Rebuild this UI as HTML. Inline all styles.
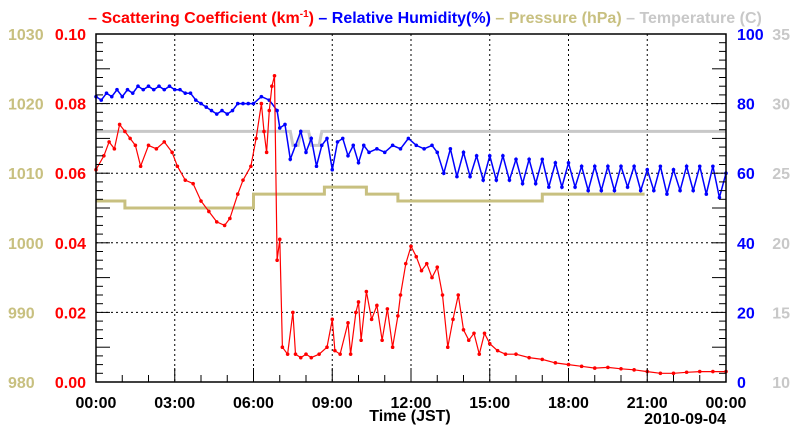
<!DOCTYPE html>
<html><head><meta charset="utf-8"><style>
body{margin:0;background:#fff;font-family:"Liberation Sans",sans-serif}
svg text{font-family:"Liberation Sans",sans-serif;font-weight:bold}
</style></head><body>
<svg id="c" width="800" height="434" xmlns="http://www.w3.org/2000/svg"></svg>
<script>
const scatT=[0,0.3,0.5,0.7,0.9,1.1,1.3,1.5,1.7,2.0,2.3,2.6,2.9,3.1,3.4,3.7,4.0,4.3,4.6,4.9,5.1,5.4,5.6,5.9,6.1,6.3,6.4,6.5,6.6,6.7,6.8,6.9,7.0,7.1,7.3,7.5,7.6,7.8,8.0,8.2,8.5,8.8,9.0,9.1,9.3,9.6,9.7,9.9,10.0,10.1,10.3,10.5,10.7,10.9,11.1,11.3,11.5,11.6,11.8,12.0,12.2,12.4,12.6,12.8,13.0,13.2,13.4,13.6,13.8,14.0,14.2,14.4,14.6,14.8,15.0,15.3,15.6,16,16.5,17,17.5,18,18.5,19,19.5,20,20.5,21,21.5,22,22.5,23,23.5,24];
const scatV=[0.061,0.065,0.069,0.067,0.074,0.072,0.070,0.068,0.062,0.068,0.067,0.069,0.066,0.062,0.058,0.057,0.052,0.049,0.046,0.045,0.047,0.054,0.058,0.062,0.070,0.080,0.072,0.066,0.078,0.085,0.088,0.035,0.041,0.010,0.008,0.020,0.008,0.007,0.008,0.007,0.008,0.010,0.018,0.009,0.008,0.017,0.008,0.020,0.023,0.012,0.026,0.018,0.022,0.012,0.021,0.010,0.019,0.025,0.034,0.039,0.036,0.032,0.034,0.030,0.033,0.025,0.010,0.018,0.025,0.015,0.012,0.014,0.008,0.014,0.011,0.009,0.008,0.008,0.007,0.0065,0.0055,0.005,0.0045,0.004,0.0042,0.0038,0.0035,0.003,0.0025,0.0025,0.0028,0.003,0.003,0.003];
const rhT=[0,0.2,0.4,0.6,0.8,1.0,1.2,1.4,1.6,1.8,2.0,2.2,2.4,2.6,2.8,3.0,3.2,3.4,3.6,3.8,4.0,4.2,4.4,4.6,4.8,5.0,5.2,5.4,5.6,5.8,6.0,6.3,6.6,6.9,7.0,7.2,7.4,7.6,7.8,8.0,8.2,8.4,8.6,8.8,9.0,9.2,9.4,9.6,9.8,10.0,10.2,10.4,10.7,11.0,11.3,11.6,11.9,12.2,12.5,12.8,13.0,13.25,13.5,13.75,14,14.25,14.5,14.75,15,15.25,15.5,15.75,16,16.25,16.5,16.75,17,17.25,17.5,17.75,18,18.25,18.5,18.75,19,19.25,19.5,19.75,20,20.25,20.5,20.75,21,21.25,21.5,21.75,22,22.25,22.5,22.75,23,23.25,23.5,23.75,24];
const rhV=[82,81,83,82,84,82,84,83,85,84,85,84,85,84,85,84,84,83,83,81,80,79,78,77,78,77,78,80,80,80,80,82,81,78,73,74,64,68,72,66,70,62,68,70,61,69,70,65,68,63,68,66,67,66,68,67,70,68,67,68,66,60,67,59,66,59,65,58,65,58,65,58,64,57,64,57,64,56,63,56,63,56,62,55,62,55,62,55,62,56,62,55,61,55,62,54,61,55,62,55,62,54,62,53,60];
const presT=[0,1.1,1.1,2.4,2.4,6.0,6.0,8.7,8.7,10.3,10.3,11.5,11.5,17.0,17.0,20.9];
const presV=[1006,1006,1005,1005,1005,1005,1007,1007,1008,1008,1007,1007,1006,1006,1007,1007];
const tempT=[0,7.4,7.5,7.7,7.8,8.1,8.2,8.5,8.6,24];
const tempV=[28,28,27,27,28,28,27,27,28,28];
const xTicks=["00:00","03:00","06:00","09:00","12:00","15:00","18:00","21:00","00:00"];
const scatTicks=["0.00","0.02","0.04","0.06","0.08","0.10"];
const rhTicks=["0","20","40","60","80","100"];
const presTicks=["980","990","1000","1010","1020","1030"];
const tempTicks=["10","15","20","25","30","35"];

const L=96,R=726,T=34,B=382;
const X=h=>L+(R-L)*h/24;
const Ys=v=>B-(B-T)*v/0.1, Yr=v=>B-(B-T)*v/100, Yp=v=>B-(B-T)*(v-980)/50, Yt=v=>B-(B-T)*(v-10)/25;
const svg=document.getElementById('c');const NS='http://www.w3.org/2000/svg';
function mk(tag,a,name,parent){const e=document.createElementNS(NS,tag);for(const k in a)e.setAttribute(k,a[k]);


(parent||svg).appendChild(e);return e;}
function txt(x,y,s,fill,anchor,name,size){const e=mk('text',{x:x,y:y,fill:fill,'text-anchor':anchor,'font-size':size||15},name);e.textContent=s;return e;}
for(let i=1;i<8;i++)mk('line',{x1:X(i*3),x2:X(i*3),y1:T,y2:B,stroke:'#000','stroke-dasharray':'2,3','stroke-width':1},'x-grid');
for(let i=1;i<5;i++){const y=Ys(i*0.02);mk('line',{x1:L,x2:R,y1:y,y2:y,stroke:'#000','stroke-dasharray':'2,3','stroke-width':1},'y-grid');}
function series(ts,vs,yf,col,name,dots,w){const p=ts.map((t,i)=>X(t).toFixed(1)+','+yf(vs[i]).toFixed(1)).join(' ');
mk('polyline',{points:p,fill:'none',stroke:col,'stroke-width':w},name);
if(dots)ts.forEach((t,i)=>mk('circle',{cx:X(t),cy:yf(vs[i]),r:1.8,fill:col},name+'-point'));}
series(tempT,tempV,Yt,'#c8c8c8','temperature-line',false,3);
series(presT,presV,Yp,'#c8c080','pressure-line',false,3);
series(rhT,rhV,Yr,'#0000ff','humidity-line',true,1.5);
series(scatT,scatV,Ys,'#ff0000','scattering-line',true,1.2);
mk('rect',{x:L,y:T,width:R-L,height:B-T,fill:'none',stroke:'#000','stroke-width':1.5},'plot-frame');
for(let i=0;i<=40;i++){const y=B-(B-T)*i/40;const len=i%4==0?14:7;
mk('line',{x1:L,x2:L+len,y1:y,y2:y,stroke:'#000'},'left-tick');mk('line',{x1:R,x2:R-len,y1:y,y2:y,stroke:'#000'},'right-tick');}
for(let i=0;i<=24;i++){const x=X(i);const len=i%3==0?14:7;mk('line',{x1:x,x2:x,y1:B,y2:B-len,stroke:'#000'},'x-tick');}
for(let i=0;i<6;i++){const y=B-(B-T)*i/5+6;
txt(86,y,scatTicks[i],'#ff0000','end','scattering-tick-label',16);
txt(8,y,presTicks[i],'#c8c080','start','pressure-tick-label',16);
txt(737,y,rhTicks[i],'#0000ff','start','humidity-tick-label',16);
txt(790,y,tempTicks[i],'#c8c8c8','end','temperature-tick-label',16);}
xTicks.forEach((s,i)=>txt(X(i*3),408,s,'#000','middle','x-tick-label',16));
txt(410,421,'Time (JST)','#000','middle','x-axis-title',16);
txt(726,424,'2010-09-04','#000','end','date-label',16);
const t=mk('text',{x:425,y:23,'text-anchor':'middle','font-size':16,'font-weight':'normal'},'legend-title');
t.innerHTML='<tspan fill="#ff0000">– Scattering Coefficient (km<tspan font-size="10" dy="-6">-1</tspan><tspan dy="6">)</tspan></tspan><tspan fill="#0000ff"> – Relative Humidity(%)</tspan><tspan fill="#c8c080"> – Pressure (hPa)</tspan><tspan fill="#c8c8c8"> – Temperature (C)</tspan>';
</script>
</body></html>
